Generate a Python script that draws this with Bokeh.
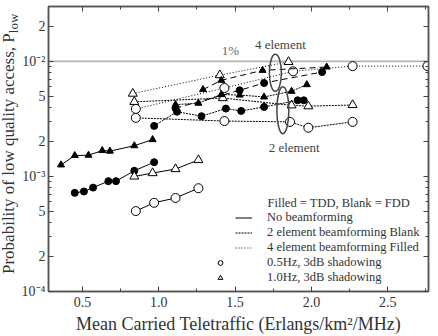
from bokeh.plotting import figure
from bokeh.models import (Range1d, FixedTicker, LinearAxis, LogAxis, Label, Legend, LegendItem, Div,
                          CustomLabelingPolicy)
from bokeh.layouts import row
from bokeh.embed import file_html
from bokeh.resources import INLINE

# ---------------- data ----------------
# No beamforming (solid)
nb_tdd_10_x = [0.36, 0.45, 0.54, 0.63, 0.68, 0.84, 0.96]
nb_tdd_10_y = [1.26e-3, 1.52e-3, 1.53e-3, 1.68e-3, 1.66e-3, 1.85e-3, 2.09e-3]
nb_tdd_05_x = [0.45, 0.51, 0.57, 0.67, 0.72, 0.84, 0.97]
nb_tdd_05_y = [7.2e-4, 7.4e-4, 8.0e-4, 9.1e-4, 9.1e-4, 1.12e-3, 1.33e-3]
nb_fdd_10_x = [0.84, 0.96, 1.11, 1.26]
nb_fdd_10_y = [1.0e-3, 1.07e-3, 1.16e-3, 1.39e-3]
nb_fdd_05_x = [0.85, 0.97, 1.11, 1.26]
nb_fdd_05_y = [5.0e-4, 5.9e-4, 6.5e-4, 7.9e-4]

# Beamforming, FDD (blank markers)
el4_fdd_10_x = [0.83, 1.40, 1.85]
el4_fdd_10_y = [5.25e-3, 7.6e-3, 9.9e-3]
el2_fdd_10_x = [0.84, 1.42, 1.87, 1.98, 2.27]
el2_fdd_10_y = [4.45e-3, 4.8e-3, 4.15e-3, 4.08e-3, 4.18e-3]
el4_fdd_05_x = [0.85, 1.43, 1.88, 2.27, 2.76]
el4_fdd_05_y = [3.86e-3, 5.87e-3, 8.2e-3, 9.1e-3, 9.1e-3]
el2_fdd_05_x = [0.85, 1.43, 1.86, 1.98, 2.27]
el2_fdd_05_y = [3.23e-3, 3.03e-3, 2.98e-3, 2.65e-3, 2.98e-3]

# Beamforming, TDD (filled markers)
el2_tdd_05_x = [0.97, 1.12, 1.28, 1.44, 1.54, 1.69, 1.91, 1.95]
el2_tdd_05_y = [2.75e-3, 3.65e-3, 3.34e-3, 3.89e-3, 3.71e-3, 4.02e-3, 4.59e-3, 4.59e-3]
el2_tdd_10_x = [1.11, 1.26, 1.41, 1.53, 1.69, 1.87, 1.97]
el2_tdd_10_y = [4.21e-3, 4.33e-3, 5.15e-3, 5.1e-3, 4.91e-3, 5.5e-3, 6.28e-3]
el4_tdd_10_x = [1.29, 1.41, 1.68, 2.10]
el4_tdd_10_y = [5.69e-3, 6.85e-3, 8.36e-3, 8.93e-3]
el4_tdd_05_x = [1.11, 1.53, 1.69, 2.07]
el4_tdd_05_y = [3.92e-3, 5.61e-3, 6.49e-3, 8.08e-3]

threshold = 1e-2
ring_x = [1.764, 1.813]
ring_y = [7.95e-3, 3.77e-3]
ring_h = [37, 47]

xtick_values = [0.5, 1.0, 1.5, 2.0, 2.5]
xtick_labels = ["0.5", "1.0", "1.5", "2.0", "2.5"]
xminor = [0.25, 0.75, 1.25, 1.75, 2.25, 2.75]
ytick_values = [1e-4, 2e-4, 5e-4, 1e-3, 2e-3, 5e-3, 1e-2, 2e-2]
ytick_labels = ["10\u207b\u2074", "2", "5", "10\u207b\u00b3", "2", "5", "10\u207b\u00b2", "2"]
yminor = [m * 10.0 ** e for e in (-4, -3, -2) for m in (3, 4, 6, 7, 8, 9) if m * 10.0 ** e < 3e-2]

FONT = "Liberation Serif"
TXT = "#333333"

p = figure(width=420, height=336, output_backend="svg", toolbar_location=None,
           y_axis_type="log", x_range=Range1d(0.278, 2.767), y_range=Range1d(1e-4, 3e-2),
           min_border_left=28, min_border_right=10, min_border_top=6, min_border_bottom=44)
p.xgrid.visible = False
p.ygrid.visible = False
p.outline_line_color = "#555555"
p.outline_line_width = 1.5
p.background_fill_color = "white"

def style_axis(ax, labels=True):
    ax.axis_line_color = "#555555"
    ax.axis_line_width = 1.5
    ax.major_tick_in = 5
    ax.major_tick_out = 0
    ax.minor_tick_in = 3
    ax.minor_tick_out = 0
    ax.major_tick_line_color = "#444444"
    ax.minor_tick_line_color = "#444444"
    ax.major_label_text_font = FONT
    ax.major_label_text_color = TXT
    ax.major_label_standoff = 5
    if labels:
        ax.major_label_text_font_size = "14px"
    else:
        ax.major_label_text_font_size = "0px"
        ax.major_label_standoff = 0
        ax.major_label_policy = CustomLabelingPolicy(code="return []")

xb = p.xaxis[0]
xb.ticker = FixedTicker(ticks=xtick_values, minor_ticks=xminor)
xb.major_label_overrides = dict(zip(xtick_values, xtick_labels))
style_axis(xb)
xb.axis_label = "Mean Carried Teletraffic (Erlangs/km\u00b2/MHz)"
xb.axis_label_text_font = FONT
xb.axis_label_text_font_style = "normal"
xb.axis_label_text_font_size = "18px"
xb.axis_label_text_color = TXT
xb.axis_label_standoff = 4

yl = p.yaxis[0]
yl.ticker = FixedTicker(ticks=ytick_values, minor_ticks=yminor)
yl.major_label_overrides = dict(zip(ytick_values, ytick_labels))
style_axis(yl)
yl.major_label_standoff = 3

xt = LinearAxis(ticker=FixedTicker(ticks=xtick_values, minor_ticks=xminor))
style_axis(xt, labels=False)
p.add_layout(xt, "above")
yr = LogAxis(ticker=FixedTicker(ticks=ytick_values, minor_ticks=yminor))
style_axis(yr, labels=False)
p.add_layout(yr, "right")

# 1% line
p.line(x=[0.278, 2.767], y=[threshold, threshold], line_color="#666666", line_width=1.6, line_dash="1 1")

D2 = "2 1"
D4 = "1 2"
D4T = "6 4"

def series(x, y, marker, filled, dash, size=7):
    ln = p.line(x=x, y=y, line_color="black", line_width=1, line_dash=dash)
    sc = p.scatter(x=x, y=y, marker=marker, size=size + (2 if not filled else 0),
                   fill_color="black" if filled else "white", line_color="black", line_width=1)
    return ln, sc

nb1, _ = series(nb_tdd_10_x, nb_tdd_10_y, "triangle", True, "solid")
series(nb_tdd_05_x, nb_tdd_05_y, "circle", True, "solid")
_, s_tri = series(nb_fdd_10_x, nb_fdd_10_y, "triangle", False, "solid")
_, s_cir = series(nb_fdd_05_x, nb_fdd_05_y, "circle", False, "solid")
l4, _ = series(el4_fdd_10_x, el4_fdd_10_y, "triangle", False, D4)
l2, _ = series(el2_fdd_10_x, el2_fdd_10_y, "triangle", False, D2)
series(el4_fdd_05_x, el4_fdd_05_y, "circle", False, D4)
series(el2_fdd_05_x, el2_fdd_05_y, "circle", False, D2)
series(el2_tdd_05_x, el2_tdd_05_y, "circle", True, D2)
series(el2_tdd_10_x, el2_tdd_10_y, "triangle", True, D2)
series(el4_tdd_10_x, el4_tdd_10_y, "triangle", True, D4T)
series(el4_tdd_05_x, el4_tdd_05_y, "circle", True, D4T)

# rings
p.ellipse(x=ring_x, y=ring_y, width=12, height=ring_h, width_units="screen", height_units="screen",
          fill_color=None, line_color="#444444", line_width=1.5)

# annotations
p.add_layout(Label(x=1.412, y=threshold, y_offset=3, text="1%", text_font=FONT, text_font_size="13px",
                   text_color="#666666", text_baseline="bottom"))
p.add_layout(Label(x=1.63, y=threshold, y_offset=9, text="4 element", text_font=FONT, text_font_size="13px",
                   text_color="#444444", text_baseline="bottom"))
p.add_layout(Label(x=1.72, y=ring_y[1], y_offset=-45, text="2 element", text_font=FONT, text_font_size="13px",
                   text_color="#444444", text_baseline="bottom"))

# legend
p.add_layout(Label(x=219, y=89, x_units="screen", y_units="screen", text="Filled = TDD, Blank = FDD",
                   text_font=FONT, text_font_size="12.5px", text_color=TXT, text_baseline="middle"))

def mk_legend(items, x, y, gw, standoff):
    lg = Legend(items=items, location=(x, y), padding=0, margin=0, spacing=0,
                glyph_width=gw, glyph_height=15, label_height=15, label_standoff=standoff,
                label_text_font=FONT, label_text_font_size="12.5px", label_text_color=TXT,
                background_fill_alpha=0, border_line_alpha=0)
    p.add_layout(lg, "center")

mk_legend([LegendItem(label="No beamforming", renderers=[nb1]),
           LegendItem(label="2 element beamforming Blank", renderers=[l2]),
           LegendItem(label="4 element beamforming Filled", renderers=[l4])], 187, 36, 17, 15)
mk_legend([LegendItem(label="0.5Hz, 3dB shadowing", renderers=[s_cir]),
           LegendItem(label="1.0Hz, 3dB shadowing", renderers=[s_tri])], 166, 6, 12, 41)

# y-axis title with subscript (rotated text)
ylabel_main = "Probability of low quality access, P"
ylabel_sub = "low"
div = Div(width=18, height=336, margin=0, styles={"overflow": "visible"},
          text=('<div style="position:absolute;left:0px;top:274px;transform-origin:0 0;'
                'transform:rotate(-90deg);white-space:nowrap;font-family:\'Liberation Serif\';'
                'font-size:17px;line-height:17px;color:#333333;">'
                + ylabel_main + '<sub style="font-size:13px;">' + ylabel_sub + '</sub></div>'))

layout = row(div, p, spacing=0)
open("out.html", "w").write(file_html(layout, INLINE))
